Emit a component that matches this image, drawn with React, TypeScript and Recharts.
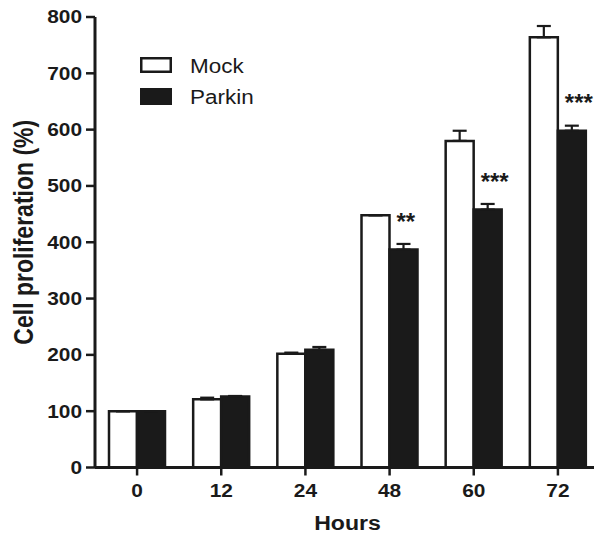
import { Bar, BarChart, ErrorBar, LabelList, XAxis, YAxis } from 'recharts';

const hours = ['0', '12', '24', '48', '60', '72'];
const mockValues = [100, 121, 202, 448, 580, 764];
const mockErrors = [0, 3, 2, 0, 18, 20];
const parkinValues = [100, 126, 209, 387, 458, 598];
const parkinErrors = [0, 1, 5, 10, 10, 9];
const parkinStars = ['', '', '', '**', '***', '***'];
const yTicks = [0, 100, 200, 300, 400, 500, 600, 700, 800];
const seriesNames = ['Mock', 'Parkin'];

const INK = '#1a1a1a';
const FONT = '"Liberation Sans", Arial, Helvetica, sans-serif';

const rows = hours.map((hour, i) => ({
  hour,
  mock: mockValues[i],
  mockErr: [0, mockErrors[i]],
  parkin: parkinValues[i],
  parkinErr: [0, parkinErrors[i]],
  stars: parkinStars[i],
}));

// source figure is a bit stretched sideways, so text gets a small x scale
function XTick({ x, y, payload }: any) {
  return (
    <g transform={`translate(${x},${y}) scale(1.16,1)`}>
      <text textAnchor="middle" dy="0.71em" fontSize={18} fontWeight="bold" fill={INK} fontFamily={FONT}>
        {payload.value}
      </text>
    </g>
  );
}

function YTick({ x, y, payload }: any) {
  return (
    <g transform={`translate(${x},${y}) scale(1.16,1)`}>
      <text textAnchor="end" dy="0.355em" fontSize={18} fontWeight="bold" fill={INK} fontFamily={FONT}>
        {payload.value}
      </text>
    </g>
  );
}

function HoursLabel({ viewBox }: any) {
  const vb = viewBox ?? { x: 95, y: 467.5, width: 505, height: 68.5 };
  return (
    <g transform={`translate(${vb.x + vb.width / 2},${vb.y + 62.5}) scale(1.1,1)`}>
      <text textAnchor="middle" fontSize={21} fontWeight="bold" fill={INK} fontFamily={FONT}>
        Hours
      </text>
    </g>
  );
}

function ProliferationLabel({ viewBox }: any) {
  const vb = viewBox ?? { x: 0, y: 17, width: 95, height: 450.5 };
  return (
    <g transform={`translate(${vb.x + 33},${vb.y + vb.height / 2 - 10}) scale(1.2,1) rotate(-90)`}>
      <text textAnchor="middle" fontSize={23} fontWeight="bold" fill={INK} fontFamily={FONT}>
        Cell proliferation (%)
      </text>
    </g>
  );
}

function Stars({ x, y, value }: any) {
  if (!value) return null;
  return (
    <text
      x={Number(x) + 7}
      y={Number(y) - 20}
      fontSize={24}
      fontWeight="bold"
      fill={INK}
      fontFamily={FONT}
    >
      {value}
    </text>
  );
}

function LegendBox() {
  return (
    <svg
      width={594}
      height={536}
      style={{ position: 'absolute', left: 0, top: 0, pointerEvents: 'none' }}
    >
      {seriesNames.map((name, i) => (
        <g key={name}>
          <rect
            x={141.25}
            y={58.25 + i * 31}
            width={29.5}
            height={13.5 + i}
            fill={i === 0 ? '#fff' : INK}
            stroke={INK}
            strokeWidth={2.5}
          />
          <g transform={`translate(190,${73 + i * 31}) scale(1.07,1)`}>
            <text fontSize={21} fill={INK} fontFamily={FONT}>
              {name}
            </text>
          </g>
        </g>
      ))}
    </svg>
  );
}

export default function App() {
  return (
    <div
      style={{
        position: 'fixed',
        left: 0,
        top: 0,
        width: 594,
        height: 536,
        overflow: 'hidden',
        background: '#fff',
      }}
    >
      <BarChart
        width={600}
        height={536}
        data={rows}
        margin={{ top: 17, right: 0, bottom: 0, left: 0 }}
        barSize={28}
        barGap={0}
      >
        <XAxis
          dataKey="hour"
          height={68.5}
          axisLine={{ stroke: INK, strokeWidth: 3 }}
          tickLine={{ stroke: INK, strokeWidth: 2.5 }}
          tickSize={8}
          tickMargin={8.5}
          tick={(p: any) => <XTick {...p} />}
          label={{ content: (p: any) => <HoursLabel {...p} /> }}
        />
        <YAxis
          domain={[0, 800]}
          ticks={yTicks}
          width={95}
          axisLine={{ stroke: INK, strokeWidth: 3 }}
          tickLine={{ stroke: INK, strokeWidth: 2.5 }}
          tickSize={9}
          tickMargin={4}
          tick={(p: any) => <YTick {...p} />}
          label={{ content: (p: any) => <ProliferationLabel {...p} /> }}
        />
        <Bar dataKey="mock" fill="#fff" stroke={INK} strokeWidth={2.5} isAnimationActive={false}>
          <ErrorBar dataKey="mockErr" width={7} stroke={INK} strokeWidth={2.2} direction="y" />
        </Bar>
        <Bar dataKey="parkin" fill={INK} stroke={INK} strokeWidth={2.5} isAnimationActive={false}>
          <ErrorBar dataKey="parkinErr" width={7} stroke={INK} strokeWidth={2.2} direction="y" />
          <LabelList dataKey="stars" content={(p: any) => <Stars {...p} />} />
        </Bar>
      </BarChart>
      <LegendBox />
    </div>
  );
}
